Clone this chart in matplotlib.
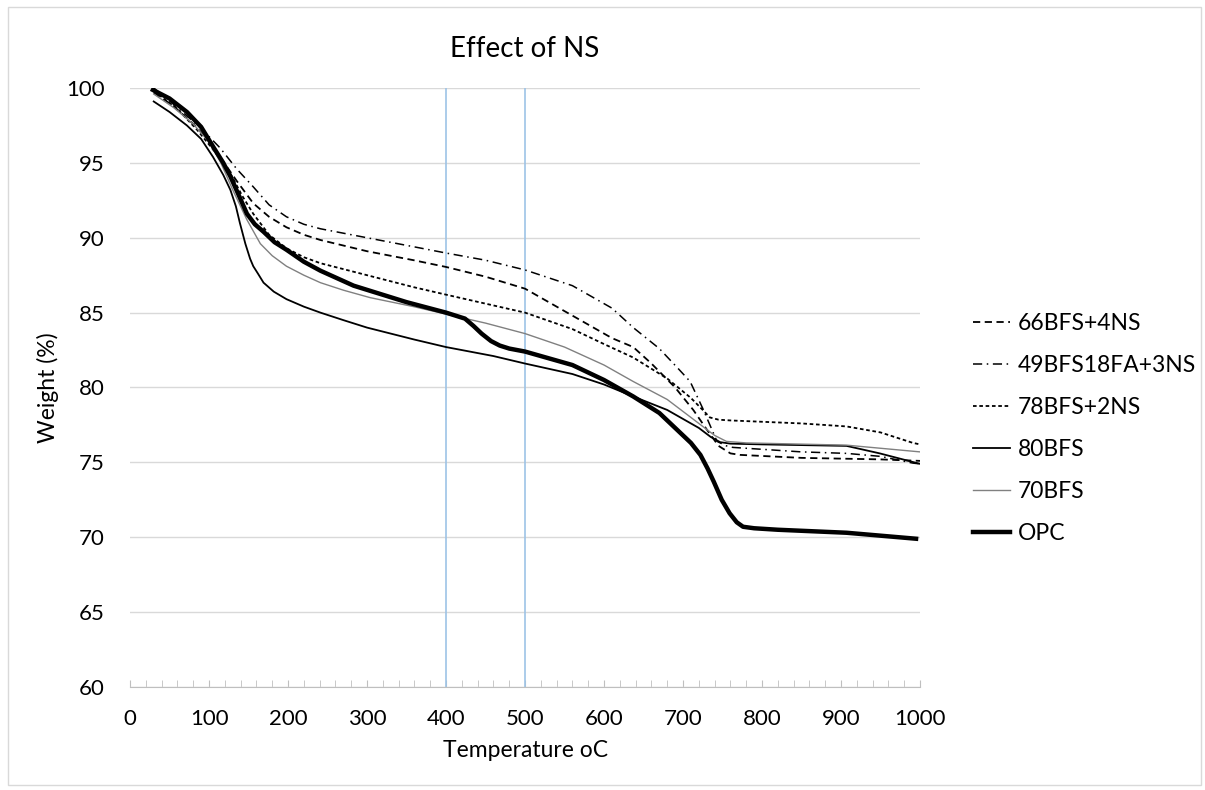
import matplotlib

matplotlib.use("Agg")
import matplotlib.pyplot as plt
from matplotlib.patches import Rectangle
from matplotlib.ticker import MultipleLocator

plt.rcParams["font.family"] = ["Lato", "DejaVu Sans"]

# ---- data (temperature in C, weight in %) ----
t_66 = [30, 55, 80, 100, 114, 135, 156, 176, 198, 220, 241, 300, 359, 400, 450, 500, 560, 610, 637, 660, 690, 713, 730, 745, 760, 772, 850, 949, 1000]
w_66 = [99.7, 98.8, 97.6, 96.5, 95.4, 93.8, 92.3, 91.4, 90.7, 90.2, 89.85, 89.1, 88.5, 88.05, 87.4, 86.6, 84.8, 83.3, 82.7, 81.6, 80.0, 78.5, 77.2, 76.1, 75.6, 75.5, 75.3, 75.2, 75.1]

t_49 = [30, 60, 90, 114, 135, 156, 176, 198, 220, 241, 300, 359, 400, 450, 500, 560, 610, 637, 670, 695, 709, 725, 743, 755, 763, 850, 907, 950, 991, 1000]
w_49 = [100.0, 98.7, 97.3, 96.0, 94.6, 93.4, 92.2, 91.4, 90.9, 90.6, 90.0, 89.4, 88.98, 88.5, 87.85, 86.8, 85.3, 84.0, 82.6, 81.2, 80.4, 78.6, 76.4, 76.1, 76.0, 75.7, 75.6, 75.4, 74.95, 74.9]

t_78 = [30, 60, 85, 105, 127, 142, 156, 176, 198, 220, 241, 300, 359, 400, 450, 500, 560, 600, 637, 680, 710, 725, 734, 745, 760, 850, 907, 950, 991, 1000]
w_78 = [99.8, 98.6, 97.2, 95.9, 94.3, 92.8, 91.6, 90.2, 89.3, 88.7, 88.3, 87.5, 86.7, 86.2, 85.6, 85.0, 83.9, 82.9, 82.0, 80.6, 79.3, 78.5, 78.0, 77.85, 77.8, 77.6, 77.4, 77.0, 76.3, 76.2]

t_80 = [30, 50, 72, 90, 105, 118, 127, 134, 139, 146, 152, 156, 162, 169, 182, 198, 220, 241, 270, 300, 360, 400, 460, 500, 560, 600, 637, 680, 720, 735, 747, 760, 800, 907, 949, 1000]
w_80 = [99.1, 98.4, 97.5, 96.6, 95.4, 94.2, 93.2, 92.1, 91.0, 89.6, 88.6, 88.1, 87.6, 87.0, 86.4, 85.9, 85.4, 85.0, 84.5, 84.0, 83.2, 82.7, 82.1, 81.6, 80.9, 80.2, 79.4, 78.5, 77.3, 76.7, 76.35, 76.25, 76.2, 76.1, 75.6, 74.9]

t_70 = [30, 55, 80, 100, 115, 130, 148, 165, 180, 198, 220, 241, 270, 304, 359, 400, 450, 500, 550, 600, 637, 680, 720, 740, 755, 780, 907, 1000]
w_70 = [99.6, 98.7, 97.6, 96.4, 95.0, 93.2, 91.2, 89.6, 88.8, 88.1, 87.5, 87.0, 86.5, 86.0, 85.4, 84.9, 84.3, 83.6, 82.7, 81.5, 80.4, 79.2, 77.6, 76.8, 76.4, 76.3, 76.15, 75.7]

t_opc = [29, 50, 72, 90, 105, 118, 127, 138, 148, 158, 169, 183, 198, 220, 241, 283, 350, 400, 424, 435, 445, 457, 468, 480, 500, 560, 600, 637, 670, 696, 710, 722, 731, 739, 749, 759, 768, 776, 790, 820, 907, 995]
w_opc = [99.87, 99.3, 98.4, 97.4, 96.1, 95.0, 94.1, 92.8, 91.6, 90.9, 90.4, 89.7, 89.2, 88.4, 87.8, 86.8, 85.7, 85.0, 84.6, 84.1, 83.6, 83.1, 82.8, 82.6, 82.4, 81.5, 80.5, 79.4, 78.3, 77.0, 76.3, 75.5, 74.6, 73.7, 72.5, 71.6, 71.0, 70.7, 70.6, 70.5, 70.3, 69.9]

ref_lines = [400, 500]


def main() -> None:
    fig = plt.figure(figsize=(12.05, 7.9), dpi=100)
    ax = fig.add_axes([0.1079, 0.1304, 0.6556, 0.7582])

    # light outer frame like the Excel chart area
    fig.patches.append(Rectangle((0.007, 0.006), 0.99, 0.985, transform=fig.transFigure,
                                 fill=False, edgecolor="#d9d9d9", lw=1))

    for x in ref_lines:
        ax.axvline(x, color="#9dc3e6", lw=1.2, zorder=1)

    common = dict(solid_joinstyle="round", dash_joinstyle="round", zorder=3)
    ax.plot(t_66, w_66, color="black", lw=1.3, dashes=(4, 2.5), label="66BFS+4NS", **common)
    ax.plot(t_49, w_49, color="black", lw=1.1, dashes=(6, 3, 1, 3), label="49BFS18FA+3NS", **common)
    ax.plot(t_78, w_78, color="black", lw=1.3, dashes=(2, 1.5), label="78BFS+2NS", **common)
    ax.plot(t_80, w_80, color="black", lw=1.3, label="80BFS", **common)
    ax.plot(t_70, w_70, color="#808080", lw=1.0, label="70BFS", **common)
    ax.plot(t_opc, w_opc, color="black", lw=3.2, label="OPC", solid_joinstyle="round", zorder=4)

    ax.set_xlim(0, 1000)
    ax.set_ylim(60, 100)
    ax.xaxis.set_major_locator(MultipleLocator(100))
    ax.xaxis.set_minor_locator(MultipleLocator(20))
    ax.yaxis.set_major_locator(MultipleLocator(5))
    ax.grid(axis="y", color="#d9d9d9", lw=1)
    ax.set_axisbelow(True)
    for side in ("left", "right", "top"):
        ax.spines[side].set_visible(False)
    ax.spines["bottom"].set_color("#bfbfbf")
    ax.tick_params(axis="x", which="both", direction="in", length=5, color="#bfbfbf",
                   labelsize=16, pad=16)
    ax.tick_params(axis="y", length=0, labelsize=16, pad=18)

    ax.set_xlabel("Temperature oC", fontsize=16.5, labelpad=8)
    ax.set_ylabel("Weight (%)", fontsize=16.5, labelpad=5)
    ax.set_title("Effect of NS", fontsize=20, pad=22)

    fig.legend(*ax.get_legend_handles_labels(), loc="upper left",
               bbox_to_anchor=(0.8075, 0.604), bbox_transform=fig.transFigure,
               frameon=False, fontsize=16.5, handlelength=1.6, handletextpad=0.35,
               labelspacing=0.92, borderpad=0, borderaxespad=0)

    fig.savefig("out.png", dpi=100)


if __name__ == "__main__":
    main()
